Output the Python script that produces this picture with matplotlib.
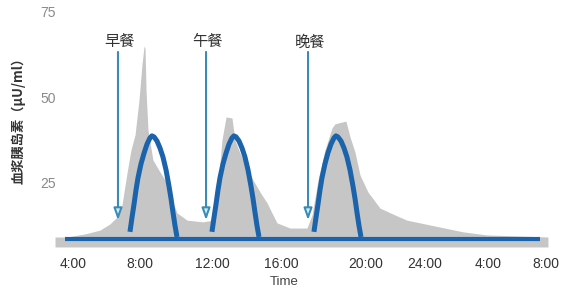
import matplotlib
matplotlib.use('Agg')
import matplotlib.pyplot as plt

plt.rcParams['font.family'] = ['Liberation Sans', 'Noto Sans CJK SC', 'DejaVu Sans']

# grey: measured insulin profile (hours on the chart's axis, uU/ml)
GREY_HOURS = [2.66, 3.39, 4.49, 5.40, 6.01, 6.44, 6.74, 7.05, 7.29, 7.54, 7.78,
              7.96, 8.09, 8.15, 8.21, 8.33, 8.63, 9.06, 9.49, 9.79, 10.10, 10.71,
              11.68, 12.29, 12.48, 12.66, 12.84, 13.09, 13.45, 13.63, 13.94, 14.37,
              14.73, 15.16, 15.59, 15.89, 16.20, 16.99, 18.02, 18.33, 18.70, 19.12,
              19.55, 19.73, 20.40, 20.65, 20.95, 21.26, 21.74, 22.48, 23.39, 24.12,
              25.52, 27.54, 29.00, 32.72]
GREY_INSULIN = [9.3, 9.3, 10.2, 11.3, 13.1, 15.1, 18.6, 27.9, 34.6, 39.0, 49.1,
                59.3, 64.8, 64.2, 52.0, 40.4, 31.7, 28.2, 25.0, 20.1, 16.3, 14.2,
                13.7, 14.2, 18.6, 27.3, 37.5, 44.2, 43.9, 37.5, 33.7, 29.4,
                25.9, 22.4, 19.2, 16.3, 13.4, 11.9, 11.9, 15.7, 25.9, 34.6,
                41.0, 42.2, 43.0, 38.4, 34.0, 27.3, 22.4, 17.7, 15.7, 14.2,
                12.8, 10.8, 9.9, 9.3]
GREY_FLOOR = 6.4

# blue: basal line and the three meal-time bursts
BASAL_HOURS = [3.27, 32.23]
BASAL_INSULIN = [8.72, 8.72]

ARCH_INSULIN = [10.8, 14.8, 18.9, 23.0, 26.5, 30.5, 33.7, 36.3, 38.1, 38.7,
                38.4, 37.2, 35.2, 32.6, 28.8, 24.1, 20.6, 16.6, 12.5, 9.3]
ARCH1_HOURS = [7.23, 7.35, 7.48, 7.60, 7.72, 7.90, 8.09, 8.27, 8.45, 8.57,
               8.70, 8.88, 9.06, 9.24, 9.43, 9.61, 9.73, 9.85, 9.98, 10.10]
ARCH2_HOURS = [12.23, 12.35, 12.48, 12.60, 12.72, 12.90, 13.09, 13.27, 13.45, 13.57,
               13.70, 13.88, 14.06, 14.24, 14.43, 14.61, 14.73, 14.85, 14.98, 15.10]
ARCH3_HOURS = [18.45, 18.57, 18.70, 18.82, 18.94, 19.12, 19.30, 19.49, 19.67, 19.79,
               19.91, 20.10, 20.28, 20.46, 20.65, 20.83, 20.95, 21.07, 21.20, 21.32]

MEAL_NAMES = ['早餐', '午餐', '晚餐']
MEAL_HOURS = [6.50, 11.87, 18.09]
ARROW_TOP = 63.1
ARROW_TIP = 14.2
LABEL_LEVEL = 66.0

XTICK_POS = [3.76, 7.84, 12.26, 16.44, 21.62, 25.19, 29.09, 32.60]
XTICK_LABELS = ['4:00', '8:00', '12:00', '16:00', '20:00', '24:00', '4:00', '8:00']
YTICKS = [25, 50, 75]

BLUE = '#1b63aa'
GREY = '#c6c6c6'

fig = plt.figure(figsize=(5.7, 2.89), dpi=100)
ax = fig.add_axes([56 / 570, 39 / 289, 509 / 570, 250 / 289])
ax.set_xlim(2.72, 33.76)
ax.set_ylim(5.52, 78.2)

ax.fill_between(GREY_HOURS, GREY_FLOOR, GREY_INSULIN, color=GREY, lw=0,
                zorder=1, clip_on=False)

for hours in (ARCH1_HOURS, ARCH2_HOURS, ARCH3_HOURS):
    ax.plot(hours, ARCH_INSULIN, color=BLUE, lw=3.6, solid_capstyle='butt',
            solid_joinstyle='round', zorder=3)
ax.plot(BASAL_HOURS, BASAL_INSULIN, color=BLUE, lw=3.0, solid_capstyle='butt',
        zorder=4)

for name, h in zip(MEAL_NAMES, MEAL_HOURS):
    ax.annotate('', xy=(h, ARROW_TIP), xytext=(h, ARROW_TOP),
                arrowprops=dict(arrowstyle='-|>,head_length=0.7,head_width=0.25',
                                fc='#d4edf8', ec='#3a8cb6', lw=1.5,
                                shrinkA=0, shrinkB=0), zorder=2)
    ax.text(h + 0.1, LABEL_LEVEL, name, ha='center', va='center', fontsize=11,
            color='#333333', family=['Noto Sans CJK SC', 'DejaVu Sans'])

ax.set_xticks(XTICK_POS)
ax.set_xticklabels(XTICK_LABELS, fontsize=10, color='#333333')
ax.set_yticks(YTICKS)
ax.set_yticklabels([str(v) for v in YTICKS], fontsize=10, color='#8a8a8a')
ax.tick_params(axis='both', length=0)
ax.tick_params(axis='x', pad=5)
ax.tick_params(axis='y', pad=0)
for s in ax.spines.values():
    s.set_visible(False)

fig.text(284 / 570, 1 - 282 / 289, 'Time', ha='center', va='center',
         fontsize=9.5, color='#444444')
fig.text(18 / 570, 1 - 117 / 289, '血浆胰岛素（μU/ml）', rotation=90,
         ha='center', va='center', fontsize=9.5, fontweight='bold',
         color='#333333', family=['Noto Sans CJK SC', 'DejaVu Sans'])

fig.savefig('out.png', dpi=100)
